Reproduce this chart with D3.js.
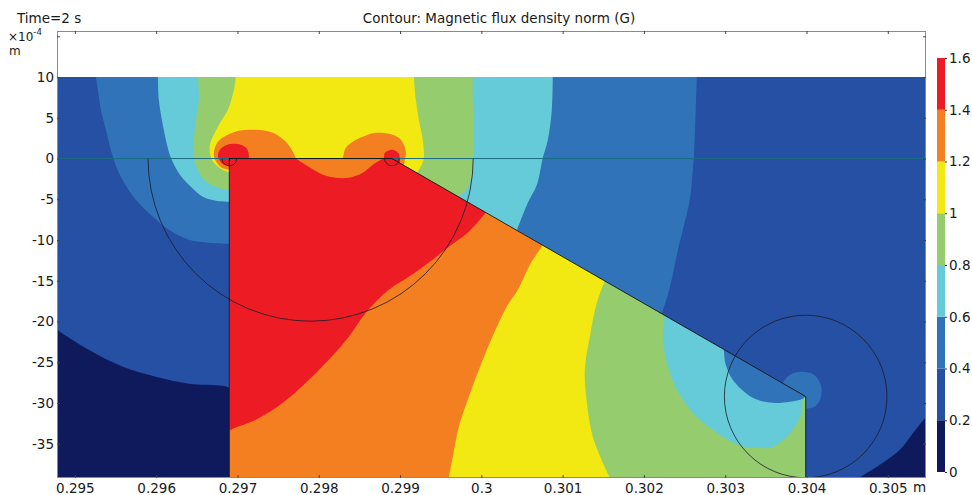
<!DOCTYPE html>
<html>
<head>
<meta charset="utf-8">
<script src="https://cdn.jsdelivr.net/npm/d3@7"></script>
<style>
  body { margin: 0; background: #fff; }
  text { font-family: "DejaVu Sans", sans-serif; fill: #1a1a1a; }
</style>
</head>
<body>
<svg id="chart" width="972" height="495"></svg>
<script>
"use strict";

// axis extents (x in m, y in 1e-4 m)
const xExtent = [0.29478, 0.30547];
const yExtent = [-39.2, 15.65];
const dataTop = 10;

const xTicks = [0.295, 0.296, 0.297, 0.298, 0.299, 0.3, 0.301, 0.302, 0.303, 0.304, 0.305];
const yTicks = [-35, -30, -25, -20, -15, -10, -5, 0, 5, 10, 15];

// contour levels (G) and their fill colours
const levels = [0, 0.2, 0.4, 0.6, 0.8, 1, 1.2, 1.4, 1.6];
const bandColors = ["#0f1a5c", "#2550a4", "#3073b8", "#66cbd9", "#95cc6d", "#f2e912", "#f47f20", "#ed1c24"];

// superlevel regions: B >= level
const region02 = [
  [0.29478, 10], [0.29478, -21.0], [0.295172, -23.47], [0.295590, -25.56], [0.295996, -26.79],
  [0.296402, -27.64], [0.296820, -27.89], [0.296903, -28.13], [0.296903, -39.2], [0.304643, -39.2],
  [0.304902, -37.58], [0.305148, -35.74], [0.305295, -33.90], [0.30547, -31.69], [0.30547, 10]
];
const region04 = [
  [0.295258, 10], [0.295283, 8.43], [0.295320, 5.98], [0.295381, 3.52], [0.295467, 0.21],
  [0.295566, -2.25], [0.295750, -5.07], [0.295959, -7.15], [0.296156, -8.75], [0.296402, -9.98],
  [0.296648, -10.34], [0.296903, -10.47], [0.296903, -39.2], [0.30399, -39.2], [0.30399, -30.71],
  [0.304102, -30.47], [0.304176, -29.36], [0.304176, -27.77], [0.304090, -26.54], [0.303942, -26.17],
  [0.303795, -26.54], [0.30371, -27.53], [0.302220, -19.01], [0.302294, -16.72], [0.302355, -14.27],
  [0.302405, -11.82], [0.302478, -8.75], [0.302565, -5.07], [0.302601, -1.39], [0.302614, 0.09],
  [0.302638, 5.98], [0.302651, 10]
];
const region06 = [
  [0.296021, 10], [0.296033, 7.20], [0.296070, 4.75], [0.296119, 2.29], [0.296181, 0.09],
  [0.296292, -2.0], [0.296427, -3.47], [0.296574, -4.70], [0.296734, -5.19], [0.296903, -5.31],
  [0.296903, -39.2], [0.30399, -39.2], [0.30399, -29.2], [0.303954, -29.48], [0.303795, -29.85],
  [0.303585, -29.98], [0.303339, -29.36], [0.303093, -27.15], [0.303007, -25.31], [0.302983, -23.42],
  [0.300437, -8.82], [0.300572, -5.44], [0.300683, -3.23], [0.300756, 0.09], [0.300818, 2.29],
  [0.300867, 5.98], [0.300879, 10]
];
const region08 = [
  [0.296513, 10], [0.296525, 7.20], [0.296488, 4.75], [0.296464, 2.29], [0.296464, 0.09],
  [0.296513, -1.39], [0.296587, -2.61], [0.296697, -3.35], [0.296808, -3.72], [0.296903, -3.84],
  [0.296903, -39.2], [0.30399, -39.2], [0.30399, -29.2], [0.303954, -29.61], [0.303942, -31.20],
  [0.303831, -33.29], [0.303672, -34.88], [0.303549, -35.50], [0.303389, -35.50], [0.303216, -35.37],
  [0.302897, -33.66], [0.302601, -31.20], [0.302405, -28.38], [0.302282, -25.07], [0.302232, -21.88],
  [0.302257, -19.26], [0.299699, -4.58], [0.299797, -4.09], [0.299846, -3.23], [0.299895, -1.39],
  [0.299908, 1.07], [0.299908, 4.75], [0.299895, 7.20], [0.299895, 10]
];
const region10 = [
  [0.296980, 10], [0.296956, 8.43], [0.296882, 5.98], [0.296771, 4.13], [0.296697, 2.66],
  [0.296661, 1.68], [0.296661, 0.70], [0.296685, -0.16], [0.296747, -0.90], [0.296820, -1.39],
  [0.296903, -1.75], [0.296903, -39.2], [0.301581, -39.2], [0.301494, -37.34], [0.301371, -34.15],
  [0.301298, -29.98], [0.301273, -25.93], [0.301335, -21.88], [0.301421, -17.71], [0.301519, -15.03],
  [0.299207, -1.76], [0.299268, -0.77], [0.299293, 0.09], [0.299280, 2.29], [0.299231, 4.75],
  [0.299194, 7.20], [0.299170, 10]
];
const region12 = [
  [0.296903, -1.39], [0.296808, -1.14], [0.296747, -0.53], [0.296710, 0.33], [0.296722, 1.31],
  [0.296771, 2.17], [0.296857, 2.79], [0.297017, 3.40], [0.297226, 3.52], [0.297435, 3.15],
  [0.297595, 2.05], [0.297681, 0.82], [0.297718, 0], [0.298296, 0], [0.298333, 1.31],
  [0.298419, 2.05], [0.298542, 2.66], [0.298702, 3.15], [0.298862, 3.03], [0.298985, 2.54],
  [0.299047, 1.68], [0.299071, 0.70], [0.299059, -0.16], [0.299047, -0.84], [0.300756, -10.65],
  [0.300597, -13.04], [0.300449, -16.11], [0.300326, -17.95], [0.300191, -20.65], [0.300018, -24.70],
  [0.299846, -29.24], [0.299723, -32.92], [0.299649, -36.60], [0.299600, -39.2], [0.296903, -39.2]
];
const region14 = [
  [0.296903, -0.90], [0.296833, -0.77], [0.296784, -0.28], [0.296759, 0.33], [0.296784, 1.07],
  [0.296845, 1.56], [0.296943, 1.80], [0.297042, 1.68], [0.297116, 1.19], [0.297140, 0.45],
  [0.297140, 0], [0.297718, 0], [0.297878, -1.02], [0.298050, -2.0], [0.298210, -2.37],
  [0.298370, -2.37], [0.298542, -1.75], [0.298665, -0.77], [0.298764, -0.16], [0.298801, 0],
  [0.298813, 0.70], [0.298850, 0.94], [0.298899, 1.07], [0.298948, 0.94], [0.298985, 0.58],
  [0.298998, 0], [0.298998, -0.56], [0.300055, -6.63], [0.299846, -8.99], [0.299600, -10.83],
  [0.299367, -12.67], [0.299108, -14.52], [0.298862, -16.11], [0.298579, -18.93], [0.298370, -21.88],
  [0.298124, -24.70], [0.297841, -27.52], [0.297558, -29.98], [0.297226, -32.06], [0.296943, -33.17],
  [0.296903, -33.41]
];
const regions = [region02, region04, region06, region08, region10, region12, region14];

// geometry: magnet outline and circles
const magnetX = [0.2969, 0.2969, 0.2989, 0.30399, 0.30399];
const magnetY = [-39.2, 0, 0, -29.2, -39.2];
const ringCx = [0.2979, 0.2969, 0.2989, 0.30399];
const ringCy = [0, 0, 0, -29.2];
const ringR = [0.002, 0.00009, 0.00009, 0.001];
const ringLowerOnly = [true, true, true, false];

const svg = d3.select("#chart");
const fontSize = 13.5;

let x = d3.scaleLinear().domain(xExtent).range([57, 926]);
let y = d3.scaleLinear().domain(yExtent).range([478, 31]);

// points on the frame or on the magnet edges stay sharp corners
function isCorner(p) {
  let onFrame = p[0] <= xExtent[0] || p[0] >= xExtent[1] || p[1] >= dataTop || p[1] <= yExtent[0];
  let onEdge = Math.abs(p[0] - magnetX[0]) < 5e-6 || Math.abs(p[0] - magnetX[3]) < 5e-6 || p[1] === 0;
  let t = (p[0] - magnetX[2]) / (magnetX[3] - magnetX[2]);
  let onDiag = t >= 0 && t <= 1 && Math.abs(p[1] - magnetY[3] * t) < 0.15;
  return onFrame || onEdge || onDiag;
}

// clip to the data area
svg.append("defs").append("clipPath").attr("id", "dataClip")
  .append("rect")
  .attr("x", x(xExtent[0]))
  .attr("y", y(dataTop))
  .attr("width", x(xExtent[1]) - x(xExtent[0]))
  .attr("height", y(yExtent[0]) - y(dataTop));

let plot = svg.append("g").attr("clip-path", "url(#dataClip)");

// lowest band as the background
plot.append("rect")
  .attr("x", x(xExtent[0]))
  .attr("y", y(dataTop))
  .attr("width", x(xExtent[1]) - x(xExtent[0]))
  .attr("height", y(yExtent[0]) - y(dataTop))
  .attr("fill", bandColors[0]);

let area = d3.line()
  .x(d => x(d[0]))
  .y(d => y(d[1]))
  .curve(d3.curveCatmullRomClosed.alpha(0.5));

plot.selectAll("path.band")
  .data(regions)
  .join("path")
  .attr("class", "band")
  .attr("d", d => area(d.flatMap(p => isCorner(p) ? [p, p] : [p])))
  .attr("fill", (d, i) => bandColors[i + 1]);

// symmetry line y = 0
plot.append("line")
  .attr("x1", x(xExtent[0])).attr("x2", x(xExtent[1]))
  .attr("y1", y(0)).attr("y2", y(0))
  .attr("stroke", "#1b6c86")
  .attr("stroke-width", 1);

// magnet outline
plot.append("path")
  .attr("d", d3.line()(magnetX.map((v, i) => [x(v), y(magnetY[i])])))
  .attr("fill", "none")
  .attr("stroke", "#111")
  .attr("stroke-width", 0.9);

// circles
ringCx.forEach(function(cx, i) {
  let px = x(cx), py = y(ringCy[i]);
  let r = x(cx + ringR[i]) - x(cx);
  let p = d3.path();
  p.moveTo(px + r, py);
  p.arc(px, py, r, 0, ringLowerOnly[i] ? Math.PI : 2 * Math.PI);
  plot.append("path")
    .attr("d", p.toString())
    .attr("fill", "none")
    .attr("stroke", "#1a1a2a")
    .attr("stroke-width", 0.8);
});

// frame
svg.append("rect")
  .attr("x", x(xExtent[0]) + 0.5)
  .attr("y", y(yExtent[1]) + 0.5)
  .attr("width", x(xExtent[1]) - x(xExtent[0]) - 1)
  .attr("height", y(yExtent[0]) - y(yExtent[1]) - 1)
  .attr("fill", "none")
  .attr("stroke", "#8a8a8a")
  .attr("stroke-width", 1);

let fmtX = d => String(+d.toFixed(3));

// bottom axis
let gx = svg.append("g")
  .attr("transform", "translate(0," + y(yExtent[0]) + ")")
  .call(d3.axisBottom(x).tickValues(xTicks).tickFormat(fmtX).tickSize(-3).tickPadding(5));
// top axis, ticks only
let gxt = svg.append("g")
  .attr("transform", "translate(0," + y(yExtent[1]) + ")")
  .call(d3.axisTop(x).tickValues(xTicks).tickFormat("").tickSize(-3));
// left axis
let gy = svg.append("g")
  .attr("transform", "translate(" + x(xExtent[0]) + ",0)")
  .call(d3.axisLeft(y).tickValues(yTicks).tickFormat(d => d === 15 ? "" : d).tickSize(-3).tickPadding(3));
// right axis, ticks only
let gyr = svg.append("g")
  .attr("transform", "translate(" + x(xExtent[1]) + ",0)")
  .call(d3.axisRight(y).tickValues(yTicks).tickFormat("").tickSize(-3));

[gx, gxt, gy, gyr].forEach(function(g) {
  g.select(".domain").remove();
  g.selectAll(".tick line").attr("stroke", "#444");
  g.selectAll("text").attr("font-size", fontSize).attr("font-family", "DejaVu Sans").attr("fill", "#1a1a1a");
});

// unit labels
svg.append("text").attr("x", 913).attr("y", 492).attr("font-size", fontSize).text("m");
let ex = svg.append("text").attr("x", 8).attr("y", 41).attr("font-size", 12);
ex.append("tspan").text("\u00d710");
ex.append("tspan").attr("dy", -6).attr("font-size", 8.5).text("-4");
svg.append("text").attr("x", 9).attr("y", 55).attr("font-size", 12).text("m");

// titles
svg.append("text").attr("x", 17).attr("y", 23).attr("font-size", fontSize).text("Time=2 s");
svg.append("text").attr("x", 499).attr("y", 23).attr("font-size", fontSize)
  .attr("text-anchor", "middle").text("Contour: Magnetic flux density norm (G)");

// colour legend
let yc = d3.scaleLinear().domain([levels[0], levels[levels.length - 1]]).range([472, 58]);
let legend = svg.append("g").attr("transform", "translate(937,0)");
legend.selectAll("rect")
  .data(bandColors)
  .join("rect")
  .attr("x", 0)
  .attr("width", 8)
  .attr("y", (d, i) => yc(levels[i + 1]))
  .attr("height", (d, i) => yc(levels[i]) - yc(levels[i + 1]))
  .attr("fill", d => d);
let gc = legend.append("g")
  .attr("transform", "translate(8,0)")
  .call(d3.axisRight(yc).tickValues(levels).tickFormat(d => String(+d.toFixed(1))).tickSize(2).tickPadding(2));
gc.select(".domain").remove();
gc.selectAll(".tick line").attr("stroke", "#333");
gc.selectAll("text").attr("font-size", fontSize).attr("font-family", "DejaVu Sans").attr("fill", "#1a1a1a");
</script>
</body>
</html>
